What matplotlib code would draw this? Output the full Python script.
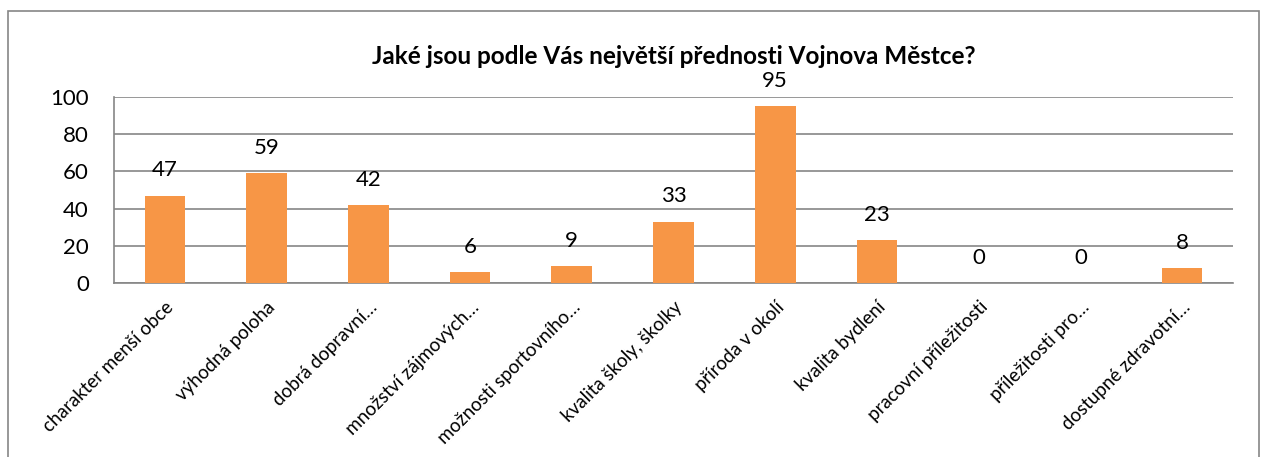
import matplotlib.pyplot as plt

plt.rcParams['font.family'] = ['Lato', 'DejaVu Sans']

categories = ['charakter menší obce', 'výhodná poloha', 'dobrá dopravní…',
              'množství zájmových…', 'možnosti sportovního…', 'kvalita školy, školky',
              'příroda v okolí', 'kvalita bydlení', 'pracovní příležitosti',
              'příležitosti pro…', 'dostupné zdravotní…']
values = [47, 59, 42, 6, 9, 33, 95, 23, 0, 0, 8]
title = 'Jaké jsou podle Vás největší přednosti Vojnova Městce?'

fig = plt.figure(figsize=(12.62, 4.57), dpi=100)
# chart border like in Excel
fig.patches.append(plt.Rectangle((8 / 1262, -0.05), 1251 / 1262, 1.05 - 11 / 457,
                                 transform=fig.transFigure, fill=False,
                                 edgecolor='#868686', linewidth=1.2))
ax = fig.add_axes([114 / 1262, 1 - 283 / 457, 1119 / 1262, 186 / 457])

x = range(len(categories))
bars = ax.bar(x, values, width=0.4, color='#F79646', zorder=3)
for xi, v in zip(x, values):
    ax.annotate(str(v), (xi, v), xytext=(0, 11), textcoords='offset points',
                ha='center', va='bottom', fontsize=16)

ax.set_xlim(-0.5, len(categories) - 0.5)
ax.set_ylim(0, 100)
ax.set_yticks(range(0, 101, 20))
ax.yaxis.grid(True, color='#868686', linewidth=1.2, zorder=0)
ax.tick_params(axis='y', labelsize=16, length=0, pad=18)
ax.tick_params(axis='x', length=0, pad=11)
ax.set_xticks(list(x))
ax.set_xticklabels(categories, rotation=45, ha='right', va='top',
                   rotation_mode='anchor', fontsize=13.5)
for s in ['top', 'right']:
    ax.spines[s].set_visible(False)
for s in ['left', 'bottom']:
    ax.spines[s].set_color('#868686')
    ax.spines[s].set_linewidth(1.2)

fig.text((114 + 1233) / 2 / 1262, 1 - 57 / 457, title, ha='center', va='center',
         fontsize=17.5, fontweight='bold')

fig.savefig('out.png', dpi=100)
